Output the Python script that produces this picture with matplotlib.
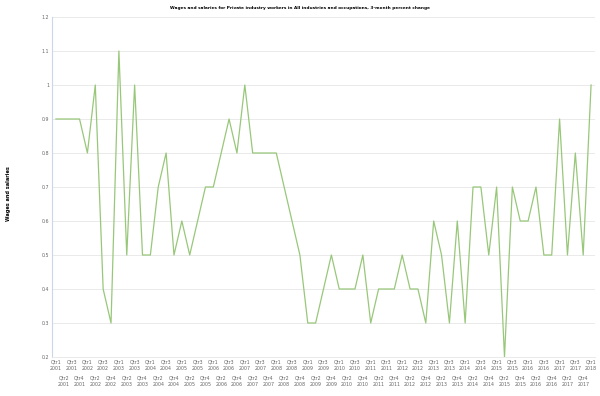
import matplotlib
matplotlib.use("Agg")
import matplotlib.pyplot as plt
from matplotlib.ticker import FixedLocator, FixedFormatter

years = list(range(2001, 2019))
quarters = [f"Qtr{q}\n{y}" for y in years for q in (1, 2, 3, 4)][:69]

values = [
    0.9, 0.9, 0.9, 0.9,      # 2001
    0.8, 1.0, 0.4, 0.3,      # 2002
    1.1, 0.5, 1.0, 0.5,      # 2003
    0.5, 0.7, 0.8, 0.5,      # 2004
    0.6, 0.5, 0.6, 0.7,      # 2005
    0.7, 0.8, 0.9, 0.8,      # 2006
    1.0, 0.8, 0.8, 0.8,      # 2007
    0.8, 0.7, 0.6, 0.5,      # 2008
    0.3, 0.3, 0.4, 0.5,      # 2009
    0.4, 0.4, 0.4, 0.5,      # 2010
    0.3, 0.4, 0.4, 0.4,      # 2011
    0.5, 0.4, 0.4, 0.3,      # 2012
    0.6, 0.5, 0.3, 0.6,      # 2013
    0.3, 0.7, 0.7, 0.5,      # 2014
    0.7, 0.2, 0.7, 0.6,      # 2015
    0.6, 0.7, 0.5, 0.5,      # 2016
    0.9, 0.5, 0.8, 0.5,      # 2017
    1.0,                     # 2018
]

title = "Wages and salaries for Private industry workers in All industries and occupations, 3-month percent change"
ylabel = "Wages and salaries"

fig = plt.figure(figsize=(6, 3.96), dpi=100)
ax = fig.add_axes([52 / 600, 1 - 357 / 396, 543 / 600, 340 / 396])

x = list(range(len(values)))
ax.plot(x, values, color="#98c77a", linewidth=0.9)

ax.set_xlim(-0.5, len(values) - 0.5)
ax.set_ylim(0.2, 1.2)
yticks = [round(0.2 + 0.1 * i, 1) for i in range(11)]
ax.set_yticks(yticks)
ax.set_yticklabels([f"{v:g}" for v in yticks])
ax.grid(axis="y", color="#e6e6e6", linewidth=0.6)
ax.set_axisbelow(True)

even = x[0::2]
odd = x[1::2]
ax.xaxis.set_major_locator(FixedLocator(even))
ax.xaxis.set_major_formatter(FixedFormatter([quarters[i] for i in even]))
ax.xaxis.set_minor_locator(FixedLocator(odd))
ax.xaxis.set_minor_formatter(FixedFormatter([quarters[i] for i in odd]))
ax.tick_params(axis="x", which="major", length=0, pad=1.5, labelsize=3.4, labelcolor="#666666")
ax.tick_params(axis="x", which="minor", length=0, pad=13, labelsize=3.4, labelcolor="#666666")
ax.tick_params(axis="y", length=0, pad=2, labelsize=3.4, labelcolor="#666666")
for lab in ax.get_xticklabels(which="both"):
    lab.set_linespacing(1.5)

for side in ("top", "right"):
    ax.spines[side].set_visible(False)
ax.spines["left"].set_color("#ccd6eb")
ax.spines["left"].set_linewidth(0.8)
ax.spines["bottom"].set_color("#e6e6e6")
ax.spines["bottom"].set_linewidth(0.6)

fig.text(0.5, 1 - 8 / 396, title, ha="center", va="center", fontsize=3.1, fontweight="bold")
fig.text(9 / 600, 1 - 194 / 396, ylabel, ha="center", va="center", rotation=90,
         fontsize=3.6, fontweight="bold")

fig.savefig("out.png", dpi=100)
